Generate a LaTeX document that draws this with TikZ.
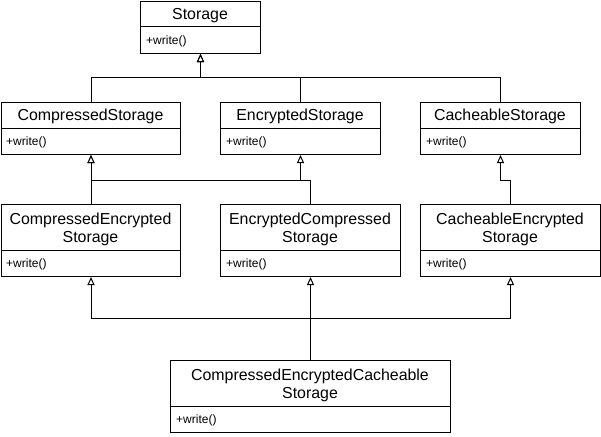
\documentclass[tikz,border=0pt]{standalone}
\usepackage{fontspec}
\setmainfont{Liberation Sans}
\usetikzlibrary{arrows.meta}
\tikzset{
  clsbox/.style={draw=black, line width=1pt, rectangle, inner sep=0pt, anchor=north west, fill=white},
  hdr/.style={inner sep=0pt, align=center, yshift=-1.8pt, font=\fontsize{15.9}{18}\selectfont},
  meth/.style={inner sep=0pt, anchor=west, yshift=-1.2pt, font=\fontsize{12}{13}\selectfont},
  divl/.style={draw=black, line width=1pt},
  inh/.style={draw=black, line width=1pt, -{Triangle[open, length=8pt, width=7pt, fill=white]}}
}
\begin{document}
\begin{tikzpicture}[x=1pt, y=-1pt]
\useasboundingbox (0,0) rectangle (601,436);

% Storage
\node[clsbox, minimum width=120pt, minimum height=52pt] (storage) at (140,1) {};
\node[hdr] (storageT) at (200,14) {Storage};
\draw[divl] (140,27) -- (260,27);
\node[meth] (storageM) at (146,40) {+write()};

% Row 2
\node[clsbox, minimum width=179pt, minimum height=52pt] (compS) at (1,102) {};
\node[hdr] (compST) at (90.5,115) {CompressedStorage};
\draw[divl] (1,128) -- (180,128);
\node[meth] (compSM) at (6,141) {+write()};

\node[clsbox, minimum width=160pt, minimum height=52pt] (encS) at (220,102) {};
\node[hdr] (encST) at (300,115) {EncryptedStorage};
\draw[divl] (220,128) -- (380,128);
\node[meth] (encSM) at (226,141) {+write()};

\node[clsbox, minimum width=160pt, minimum height=52pt] (cacheS) at (420,102) {};
\node[hdr] (cacheST) at (500,115) {CacheableStorage};
\draw[divl] (420,128) -- (580,128);
\node[meth] (cacheSM) at (426,141) {+write()};

% Row 3
\node[clsbox, minimum width=179pt, minimum height=72pt] (compEnc) at (1,204) {};
\node[hdr] (compEncT) at (90.5,228) {CompressedEncrypted\\Storage};
\draw[divl] (1,250) -- (180,250);
\node[meth] (compEncM) at (6,263) {+write()};

\node[clsbox, minimum width=180pt, minimum height=72pt] (encComp) at (220,204) {};
\node[hdr] (encCompT) at (310,228) {EncryptedCompressed\\Storage};
\draw[divl] (220,250) -- (400,250);
\node[meth] (encCompM) at (226,263) {+write()};

\node[clsbox, minimum width=180pt, minimum height=72pt] (cacheEnc) at (420,204) {};
\node[hdr] (cacheEncT) at (510,228) {CacheableEncrypted\\Storage};
\draw[divl] (420,250) -- (600,250);
\node[meth] (cacheEncM) at (426,263) {+write()};

% Bottom
\node[clsbox, minimum width=280pt, minimum height=72pt] (big) at (170,360) {};
\node[hdr] (bigT) at (310,384) {CompressedEncryptedCacheable\\Storage};
\draw[divl] (170,406) -- (450,406);
\node[meth] (bigM) at (176,419) {+write()};

% Inheritance connectors
\draw[inh] (compS.north) -- ++(0,-25) -| (storage.south);
\draw[inh] (encS.north) -- ++(0,-25) -| (storage.south);
\draw[inh] (cacheS.north) -- ++(0,-25) -| (storage.south);

\draw[inh] (compEnc.north) -- ++(0,-24) -| (encS.south);
\draw[inh] (compEnc.north) -- (compS.south);
\draw[inh] (encComp.north) -- ++(0,-24) -| (compS.south);
\draw[inh] (cacheEnc.north) -- ++(0,-24) -| (cacheS.south);

\draw[inh] (big.north) -- (encComp.south);
\draw[inh] (big.north) -- ++(0,-42) -| (compEnc.south);
\draw[inh] (big.north) -- ++(0,-42) -| (cacheEnc.south);
\end{tikzpicture}
\end{document}
